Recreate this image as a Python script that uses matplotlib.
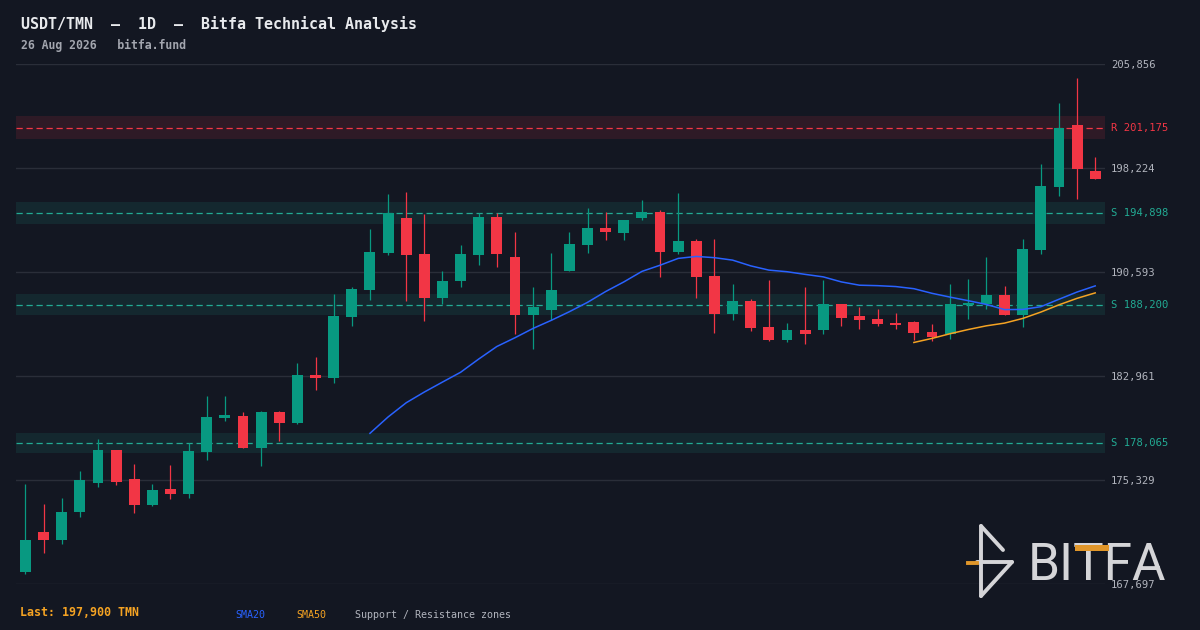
import matplotlib
matplotlib.use("Agg")
import matplotlib.pyplot as plt
import numpy as np
import pandas as pd
from matplotlib.lines import Line2D
from matplotlib.patches import Rectangle

# ---- data ----
opens = [168600, 171510, 170950, 173000, 175130, 177530, 175400, 173520, 174670, 174320,
         177400, 179900, 180030, 177700, 180320, 179530, 183030, 182840, 187310, 189290,
         192010, 194560, 191910, 188710, 189950, 191860, 194630, 191690, 187460, 187830,
         190690, 192600, 193820, 193480, 194580, 195000, 192080, 192870, 190300, 187530,
         188460, 186560, 185620, 186340, 186360, 188240, 187360, 187140, 186850, 186920,
         186190, 186060, 188170, 188240, 188900, 187460, 192210, 196850, 201380, 198000]
highs = [175030, 173570, 174010, 175990, 178340, 177560, 176500, 175030, 176430, 178020,
         181490, 181490, 180320, 180390, 180390, 183920, 184360, 188980, 189490, 193750,
         196320, 196470, 194870, 190680, 192570, 194900, 194900, 193530, 189490, 191990,
         193530, 195290, 195000, 194440, 195880, 195140, 196390, 193010, 193010, 189710,
         188610, 190030, 186850, 189510, 190000, 188260, 188020, 187880, 187580, 187000,
         186780, 189710, 190080, 191690, 189570, 193010, 198520, 202990, 204830, 199030]
lows = [168450, 169990, 170650, 172640, 174840, 174980, 172930, 173440, 173960, 174030,
        176820, 179680, 177680, 176380, 178210, 179460, 181960, 182470, 186650, 188560,
        191860, 188490, 187020, 188270, 189510, 191130, 190980, 186070, 184960, 187070,
        190650, 192010, 192960, 192960, 194430, 190250, 191930, 188710, 186140, 187090,
        186290, 185550, 185480, 185330, 186060, 186650, 186430, 186650, 186430, 185620,
        185550, 185700, 187170, 187900, 187440, 186530, 191910, 196190, 195970, 197420]
closes = [170930, 170950, 172980, 175330, 177530, 175200, 173520, 174600, 174320, 177460,
          179950, 180100, 177700, 180320, 179530, 183030, 182840, 187360, 189350, 192060,
          194930, 191840, 188710, 189950, 191910, 194630, 191940, 187460, 188020, 189270,
          192650, 193820, 193550, 194410, 195000, 192080, 192870, 190250, 187530, 188460,
          186510, 185620, 186340, 186060, 188240, 187240, 187090, 186800, 186700, 186140,
          185840, 188240, 188320, 188900, 187460, 192280, 196900, 201160, 198170, 197440]

zone_levels = [201175, 194898, 188200, 178065]
zone_kinds = ["R", "S", "S", "S"]
zone_pct = 0.0042

y_lo, y_hi = 167697.4, 205856.2
last_price = 197900

title = "USDT/TMN  \u2014  1D  \u2014  Bitfa Technical Analysis"
subtitle = "26 Aug 2026   bitfa.fund"

BG = "#131722"
UP = "#089981"
DOWN = "#f23645"
SUP = "#22ab94"
BLUE = "#2962ff"
ORANGE = "#f5a323"
GRID = "#2a2e39"
TXT = "#b2b5be"
MONO = "DejaVu Sans Mono"

W, H = 1200, 630
fig = plt.figure(figsize=(W / 100, H / 100), dpi=100, facecolor=BG)


def px(x, y):
    return x / W, 1 - y / H


ax = fig.add_axes([16 / W, (H - 584) / H, (1105 - 16) / W, (584 - 64) / H])
ax.set_facecolor(BG)
for s in ax.spines.values():
    s.set_visible(False)

n = len(closes)
x = np.arange(n)
o = np.array(opens, float)
c = np.array(closes, float)
hi = np.array(highs, float)
lo = np.array(lows, float)
up = c >= o
cols = np.where(up, UP, DOWN)

# grid lines at the tick levels
ticks = np.linspace(y_lo, y_hi, 6)
for t in ticks:
    ax.axhline(t, color=GRID, lw=1, zorder=0)

# support / resistance zones
for lvl, kind in zip(zone_levels, zone_kinds):
    col = DOWN if kind == "R" else SUP
    half = lvl * zone_pct
    ax.axhspan(lvl - half, lvl + half, color=col, alpha=0.12, lw=0, zorder=1)
    ax.axhline(lvl, color=col, lw=0.9, ls=(0, (5, 3)), zorder=2)
    ax.text(1.0055, lvl, f"{kind} {lvl:,}", transform=ax.get_yaxis_transform(),
            color=col, fontsize=7.6, family=MONO, va="center", ha="left")

# candles
ax.vlines(x, lo, hi, colors=cols, lw=0.9, zorder=3)
ax.bar(x, np.abs(c - o), bottom=np.minimum(o, c), width=0.6, color=cols,
       lw=0, zorder=4)

# moving averages
sma20 = pd.Series(c).rolling(20).mean()
sma50 = pd.Series(c).rolling(50).mean()
ax.plot(x, sma20, color=BLUE, lw=1.1, zorder=5)
ax.plot(x, sma50, color=ORANGE, lw=1.1, zorder=5)

ax.set_xlim(-0.52, n - 1 + 0.54)
ax.set_ylim(y_lo, y_hi)
ax.set_xticks([])
ax.yaxis.tick_right()
ax.set_yticks(ticks)
ax.set_yticklabels([f"{t:,.0f}" for t in ticks], family=MONO, fontsize=7.6,
                   color=TXT)
ax.tick_params(axis="y", length=0, pad=4.3)

# header
fig.text(*px(21, 24), title, family=MONO, fontsize=10.8, fontweight="bold",
         color="#e8eaed", va="center", ha="left")
fig.text(*px(21, 45), subtitle, family=MONO, fontsize=8.3, fontweight="bold",
         color="#a3a6af", va="center", ha="left")

# footer legend
fig.text(*px(20, 613), f"Last: {last_price:,} TMN", family=MONO, fontsize=8.4,
         fontweight="bold", color=ORANGE, va="center", ha="left")
fig.text(*px(235, 615), "SMA20", family=MONO, fontsize=7.2, color=BLUE,
         va="center", ha="left")
fig.text(*px(296, 615), "SMA50", family=MONO, fontsize=7.2, color=ORANGE,
         va="center", ha="left")
fig.text(*px(355, 615), "Support / Resistance zones", family=MONO, fontsize=7.2,
         color=TXT, va="center", ha="left")

# logo
LOGO = "#d5d5d8"
LOGO_OR = "#e0962a"
icon = [((981, 526), (981, 596)), ((981, 526), (1003, 550)),
        ((977, 562), (1012, 562)), ((1012, 562), (981, 596))]
for (x0, y0), (x1, y1) in icon:
    a, b = px(x0, y0)
    cc, d = px(x1, y1)
    fig.add_artist(Line2D([a, cc], [b, d], color=LOGO, lw=2.8,
                          solid_capstyle="round"))
a, b = px(968, 563)
cc, d = px(977, 563)
fig.add_artist(Line2D([a, cc], [b, d], color=LOGO_OR, lw=2.8, zorder=10))
fig.text(*px(1028, 580), "BITFA", family="Roboto", fontsize=37, color=LOGO,
         va="baseline", ha="left")
# orange cross-bar of the T
rx, ry = px(1075, 551)
fig.add_artist(Rectangle((rx, ry), 34 / W, 6.5 / H, color=LOGO_OR, lw=0,
                         zorder=10))

fig.savefig("out.png", dpi=100, facecolor=BG)
